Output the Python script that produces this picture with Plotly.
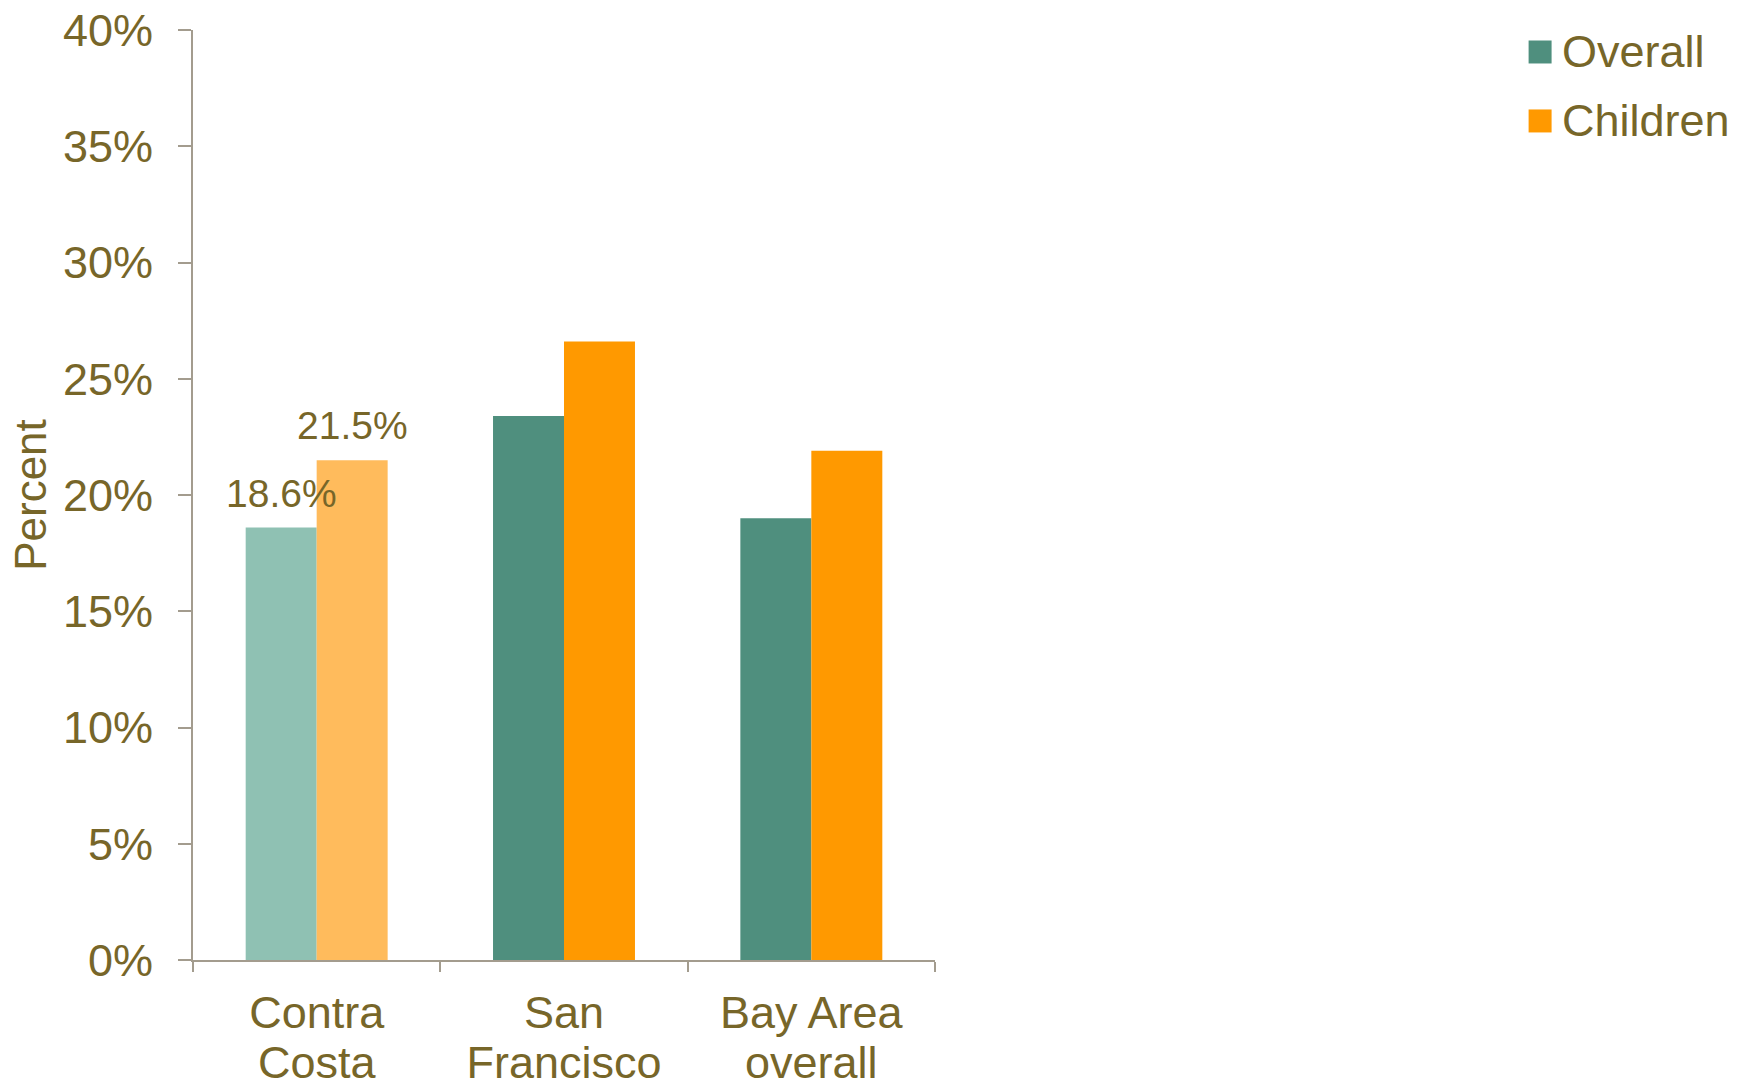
import plotly.graph_objects as go

# Share of population, by area
categories = ["Contra Costa", "San Francisco", "Bay Area overall"]
label_line1 = ["Contra", "San", "Bay Area"]
label_line2 = ["Costa", "Francisco", "overall"]
series_names = ["Overall", "Children"]
overall = [18.6, 23.4, 19.0]
children = [21.5, 26.6, 21.9]

# Contra Costa is highlighted in lighter tints and labelled with its values
overall_colors = ["#8FC1B3", "#4F8F7E", "#4F8F7E"]
children_colors = ["#FFBB5C", "#FF9900", "#FF9900"]
legend_colors = ["#4F8F7E", "#FF9900"]
labelled = [True, False, False]

TEXT = "#776629"
AXIS = "#A39C8E"
FONT = "Liberation Sans, Arial, sans-serif"

W, H = 1745, 1085
L, R, T, B = 192.5, 810, 30, 124.5
PW, PH = W - L - R, H - T - B


def px_x(x):
    return (x - L) / PW


def px_y(y):
    return (H - B - y) / PH


fig = go.Figure()
fig.add_trace(go.Bar(x=categories, y=overall, name=series_names[0],
                     marker=dict(color=overall_colors, line=dict(width=0)),
                     showlegend=False))
fig.add_trace(go.Bar(x=categories, y=children, name=series_names[1],
                     marker=dict(color=children_colors, line=dict(width=0)),
                     showlegend=False))
# carrier for the second row of category labels (tighter line spacing)
fig.add_trace(go.Scatter(x=list(range(len(categories))), y=[0] * len(categories),
                         xaxis="x2", yaxis="y", mode="markers",
                         marker=dict(opacity=0), hoverinfo="skip",
                         showlegend=False))

bargap = 0.426
bar_px = PW / len(categories) * (1 - bargap) / 2

annotations = []
for i, cat in enumerate(categories):
    if not labelled[i]:
        continue
    for val, sign in ((overall[i], -1), (children[i], 1)):
        annotations.append(dict(
            x=cat, y=val, xref="x", yref="y", text=f"{val:.1f}%",
            showarrow=False, xanchor="center", yanchor="bottom",
            xshift=sign * bar_px / 2, yshift=11,
            font=dict(family=FONT, size=39, color=TEXT)))

# Legend: swatches and names in the top right corner
shapes = []
for k, (name, col) in enumerate(zip(series_names, legend_colors)):
    cy = 52 + k * 69
    shapes.append(dict(type="rect", xref="paper", yref="paper",
                       x0=px_x(1529), x1=px_x(1552),
                       y0=px_y(cy + 11.5), y1=px_y(cy - 11.5),
                       fillcolor=col, line=dict(width=0)))
    annotations.append(dict(x=px_x(1560), y=px_y(cy), xref="paper", yref="paper",
                            text=name, showarrow=False, xanchor="left",
                            yanchor="middle",
                            font=dict(family=FONT, size=45, color=TEXT)))

fig.update_layout(
    width=W, height=H,
    margin=dict(l=L, r=R, t=T, b=B, pad=0),
    paper_bgcolor="white", plot_bgcolor="white",
    barmode="group", bargap=bargap, bargroupgap=0,
    font=dict(family=FONT, color=TEXT),
    annotations=annotations, shapes=shapes,
    xaxis=dict(
        automargin=False,
        showline=True, linecolor=AXIS, linewidth=2,
        ticks="outside", ticklen=10, tickwidth=2, tickcolor=AXIS,
        tickson="boundaries", showgrid=False,
        tickmode="array", tickvals=categories, ticktext=label_line1,
        tickfont=dict(family=FONT, size=45, color=TEXT),
        ticklabelstandoff=12,
    ),
    xaxis2=dict(
        automargin=False, overlaying="x", anchor="y", side="bottom",
        range=[-0.5, len(categories) - 0.5],
        showline=False, ticks="", showgrid=False, zeroline=False,
        tickmode="array", tickvals=list(range(len(categories))),
        ticktext=label_line2,
        tickfont=dict(family=FONT, size=45, color=TEXT),
        ticklabelstandoff=72,
    ),
    yaxis=dict(
        automargin=False,
        range=[0, 40], dtick=5, ticksuffix="%",
        showline=True, linecolor=AXIS, linewidth=2,
        ticks="outside", ticklen=13, tickwidth=2, tickcolor=AXIS,
        showgrid=False, zeroline=False,
        tickfont=dict(family=FONT, size=45, color=TEXT),
        ticklabelstandoff=16,
        title=dict(text="Percent", standoff=3,
                   font=dict(family=FONT, size=44, color=TEXT)),
    ),
)

fig.write_html("out.html")
